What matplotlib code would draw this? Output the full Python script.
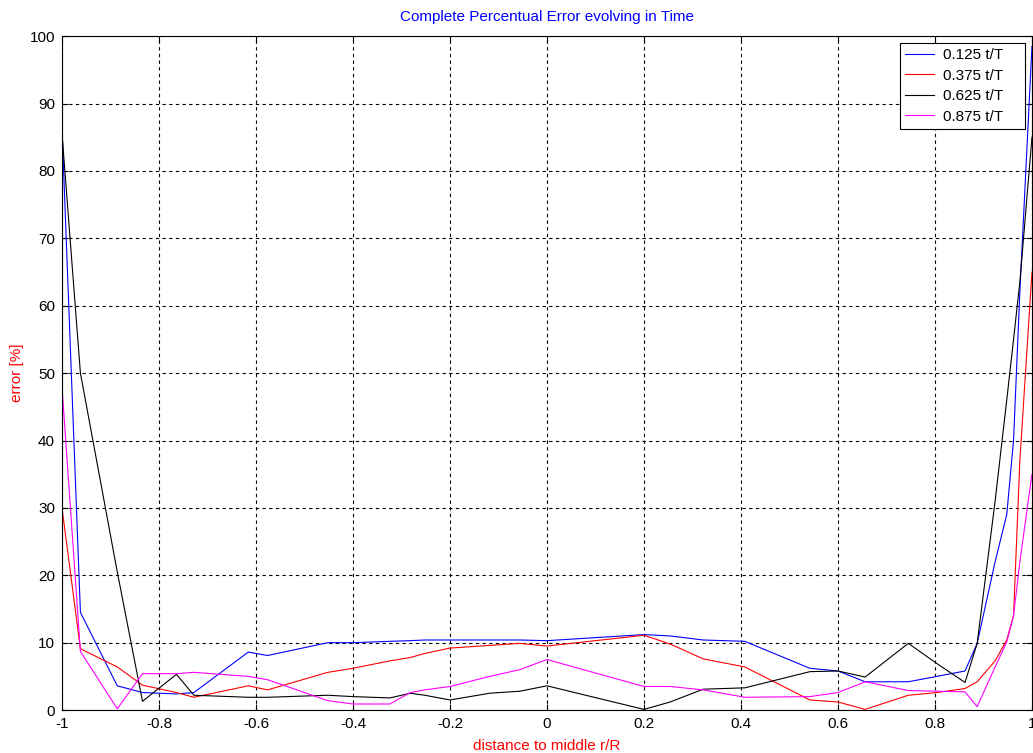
import matplotlib
matplotlib.use("Agg")
import matplotlib.pyplot as plt

plt.rcParams['font.family'] = ['Liberation Sans', 'DejaVu Sans']

# radial positions of the mesh nodes
r = [-1.0, -0.962, -0.886, -0.834, -0.764, -0.728, -0.616, -0.576, -0.452, -0.4,
     -0.324, -0.282, -0.252, -0.2, -0.118, -0.056, 0.0, 0.2, 0.254, 0.322,
     0.408, 0.542, 0.6, 0.656, 0.745, 0.804, 0.862, 0.887, 0.924, 0.948,
     0.962, 0.975, 1.0]

# percentual error at each node, one list per time step
err_0125 = [86.5, 14.5, 3.6, 2.6, 2.4, 2.6, 8.6, 8.1, 10.0, 10.0,
            10.2, 10.3, 10.4, 10.4, 10.4, 10.4, 10.3, 11.2, 11.0, 10.4,
            10.2, 6.2, 5.8, 4.2, 4.2, 5.0, 5.8, 9.9, 22.0, 29.0,
            40.0, 62.0, 98.5]
err_0375 = [30.0, 9.1, 6.4, 3.7, 2.6, 1.9, 3.6, 3.0, 5.6, 6.2,
            7.3, 7.8, 8.4, 9.2, 9.6, 9.9, 9.5, 11.1, 9.8, 7.6,
            6.4, 1.5, 1.2, 0.1, 2.2, 2.6, 3.2, 4.2, 7.3, 10.4,
            14.0, 37.0, 65.0]
err_0625 = [85.6, 50.0, 20.5, 1.3, 5.3, 2.2, 1.9, 1.9, 2.2, 2.0,
            1.8, 2.5, 2.2, 1.5, 2.5, 2.8, 3.6, 0.1, 1.2, 3.1,
            3.3, 5.7, 5.8, 4.9, 9.9, 6.9, 4.1, 9.9, 31.0, 46.0,
            55.0, 63.5, 85.0]
err_0875 = [48.0, 8.7, 0.2, 5.4, 5.4, 5.6, 5.0, 4.5, 1.4, 0.9,
            0.9, 2.6, 3.0, 3.5, 5.0, 6.0, 7.5, 3.5, 3.5, 3.0,
            1.9, 2.0, 2.6, 4.2, 2.9, 2.8, 2.7, 0.5, 6.4, 10.1,
            14.0, 22.0, 35.0]

labels = ['0.125 t/T', '0.375 t/T', '0.625 t/T', '0.875 t/T']
xticks = [-1, -0.8, -0.6, -0.4, -0.2, 0, 0.2, 0.4, 0.6, 0.8, 1]
xticklabels = ['-1', '-0.8', '-0.6', '-0.4', '-0.2', '0', '0.2', '0.4', '0.6', '0.8', '1']
yticks = [0, 10, 20, 30, 40, 50, 60, 70, 80, 90, 100]

fig = plt.figure(figsize=(10.33, 7.53), dpi=100)
ax = fig.add_axes([0.060, 0.057, 0.939, 0.895])

lines = []
lines += ax.plot(r, err_0125, color='#0000ff', lw=0.8)
lines += ax.plot(r, err_0375, color='#ff0000', lw=0.8)
lines += ax.plot(r, err_0625, color='#000000', lw=0.8)
lines += ax.plot(r, err_0875, color='#ff00ff', lw=0.8)

ax.set_xlim(-1, 1)
ax.set_ylim(0, 100)
ax.set_xticks(xticks)
ax.set_xticklabels(xticklabels)
ax.set_yticks(yticks)
ax.tick_params(direction='in', top=True, right=True, length=4,
               labelsize=11, pad=5)
ax.grid(True, color='black', linestyle=(0, (3, 3)), linewidth=0.8)

for s in ax.spines.values():
    s.set_linewidth(0.8)

ax.set_title('Complete Percentual Error evolving in Time', color='#0000ff',
             fontsize=11, pad=11)
ax.set_xlabel('distance to middle r/R', color='#ff0000', fontsize=11, labelpad=6)
ax.set_ylabel('error [%]', color='#ff0000', fontsize=11, labelpad=4)

# a little blank space after each label widens the box on the right
leg = ax.legend(lines, [l + '    ' for l in labels], loc='upper right',
                fontsize=11, fancybox=False, framealpha=1, edgecolor='black',
                borderaxespad=0.45, handlelength=1.85, handletextpad=0.6,
                labelspacing=0.42, borderpad=0.35)
leg.get_frame().set_linewidth(0.8)

fig.savefig('out.png', dpi=100, facecolor='white')
